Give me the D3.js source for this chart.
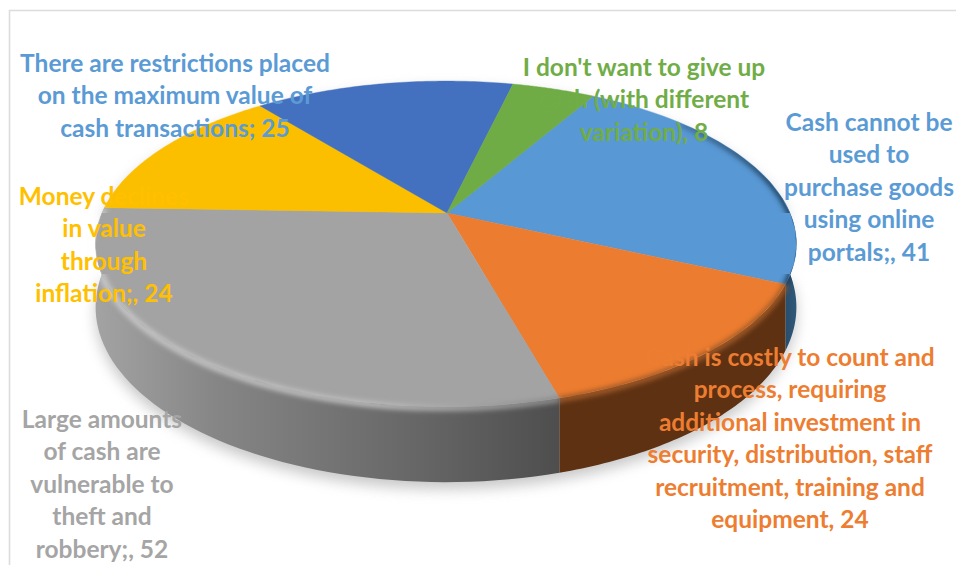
<!DOCTYPE html>
<html>
<head>
<meta charset="utf-8">
<style>
  html, body { margin: 0; padding: 0; background: #fff; }
  svg { display: block; }
  text { font-family: Lato, "Noto Sans", sans-serif; font-weight: 700; text-anchor: middle; }
</style>
<script src="https://cdn.jsdelivr.net/npm/d3@7/dist/d3.min.js"></script>
</head>
<body>
<svg id="chart" width="956" height="565"></svg>
<script>
// Survey responses shown as a tilted pie with a thick edge.
const categories = ["online", "costly", "theft", "inflation", "limits", "habit"];
const values = [41, 24, 52, 24, 25, 8];
const topColors = ["#5898d4", "#ec7c30", "#a3a3a3", "#fbbf00", "#4371c0", "#6fac46"];
const labelColors = ["#5b9bd5", "#ed7d31", "#a5a5a5", "#ffc000", "#5b9bd5", "#70ad47"];
const labelLines = [
  ["Cash cannot be", "used to", "purchase goods", "using online", "portals;,"],
  ["Cash is costly to count and", "process, requiring", "additional investment in", "security, distribution, staff", "recruitment, training and", "equipment,"],
  ["Large amounts", "of cash are", "vulnerable to", "theft and", "robbery;,"],
  ["Money declines", "in value", "through", "inflation;,"],
  ["There are restrictions placed", "on the maximum value of", "cash transactions;"],
  ["I don't want to give up", "cash (with different", "variation),"]
];
const labelCenterX = [869, 790, 102, 104, 175, 644];
const labelFirstBaseline = [131, 366, 428, 205, 72, 76];

const fontSize = 24.5, lineStep = 32.4;

const svg = d3.select("#chart");
const defs = svg.append("defs");

// Perspective view of a flat disc: the far edge shrinks, the near edge grows.
const view = { x: 446, y: 213, radius: 344, depthY: 157, persp: 0.19, thickness: 61 };
function project(theta, drop) {
  const c = Math.cos(theta), s = Math.sin(theta), w = 1 - view.persp * s;
  return [view.x + view.radius * c / w, view.y + (view.depthY * s + drop) / w];
}
const line = d3.line();
const sample = (a, b) => d3.range(0, 61).map(i => d3.scaleLinear().domain([0, 60]).range([a, b])(i));
const toTheta = a => a - Math.PI / 2;

const arcs = d3.pie().sort(null).startAngle(29.9 * Math.PI / 180).endAngle((29.9 + 360) * Math.PI / 180)(values);

// Outline shared by the clip and the drop shadow.
const full = sample(0, 2 * Math.PI);
const outline = () =>
  line(full.map(t => project(t, 0))) + "Z" +
  line(sample(0, Math.PI).map(t => project(t, view.thickness))) +
  line(sample(0, Math.PI).map(t => project(t, 0)).reverse()) + "Z";

const blurs = [["soft", 7], ["bevel", 2.6]];
blurs.forEach(([id, dev]) => {
  defs.append("filter").attr("id", id)
    .attr("x", "-20%").attr("y", "-20%").attr("width", "140%").attr("height", "140%")
    .append("feGaussianBlur").attr("stdDeviation", dev);
});
defs.append("clipPath").attr("id", "discClip").append("path").attr("d", outline()).attr("clip-rule", "nonzero");

function hGradient(id, x1, x2, stops) {
  const g = defs.append("linearGradient").attr("id", id).attr("gradientUnits", "userSpaceOnUse")
    .attr("x1", x1).attr("x2", x2).attr("y1", 0).attr("y2", 0);
  stops.forEach(([o, c]) => g.append("stop").attr("offset", o).attr("stop-color", c));
}
hGradient("sideGray", 100, 558, [[0, "#a2a2a2"], [0.25, "#868686"], [0.7, "#666666"], [1, "#4e4e4e"]]);
hGradient("sideOrange", 558, 790, [[0, "#5e3113"], [1, "#5e3113"]]);
hGradient("sideBlue", 770, 796, [[0, "#1f3f5e"], [1, "#2f5878"]]);
hGradient("bevelGray", 100, 558, [[0, "#c8c8c8"], [0.6, "#bdbdbd"], [1, "#8a8a8a"]]);
hGradient("bevelOrange", 558, 790, [[0, "#a05a28"], [1, "#a05a28"]]);
hGradient("bevelBlue", 650, 796, [[0, "#4d86ba"], [0.6, "#31597e"], [1, "#1f3f5e"]]);

// Chart frame: only its top and left edges fall inside the page.
svg.append("path").attr("d", line([[9.5, 565], [9.5, 10.5], [956, 10.5]]))
  .attr("fill", "none").attr("stroke", "#dcdcdc").attr("stroke-width", 1.6);

// Soft shadow under the disc.
svg.append("path").attr("d", outline()).attr("transform", "translate(0,7)")
  .attr("fill", "#9a9a9a").attr("opacity", 0.55).attr("filter", "url(#soft)");

// Visible edge walls of the slices that face the viewer.
const sideFills = { online: "sideBlue", costly: "sideOrange", theft: "sideGray" };
arcs.forEach((d, i) => {
  const fill = sideFills[categories[i]];
  if (!fill) return;
  const a = Math.max(toTheta(d.startAngle) % (2 * Math.PI), categories[i] === "online" ? -0.1 : -9);
  const b = Math.min(toTheta(d.endAngle), Math.PI);
  const upper = sample(a, b).map(t => project(t, 0));
  const lower = sample(a, b).map(t => project(t, view.thickness)).reverse();
  svg.append("path").attr("d", line(upper.concat(lower)) + "Z").attr("fill", `url(#${fill})`);
});

// Top faces of the slices.
arcs.forEach((d, i) => {
  const rim = sample(toTheta(d.startAngle), toTheta(d.endAngle)).map(t => project(t, 0));
  svg.append("path").attr("d", line([[view.x + 1, view.y]].concat(rim)) + "Z")
    .attr("fill", topColors[i]).attr("stroke", topColors[i]).attr("stroke-width", 0.4);
});

// Rounded bevel along the near rim.
const bevel = svg.append("g").attr("clip-path", "url(#discClip)");
const bevelFills = { online: "bevelBlue", costly: "bevelOrange", theft: "bevelGray" };
arcs.forEach((d, i) => {
  const fill = bevelFills[categories[i]];
  if (!fill) return;
  const a = toTheta(d.startAngle), b = Math.min(toTheta(d.endAngle), Math.PI * 1.02);
  const first = categories[i] === "online" ? a + 0.35 : a;
  bevel.append("path").attr("d", line(sample(first, b).map(t => project(t, 1))))
    .attr("fill", "none").attr("stroke", `url(#${fill})`).attr("stroke-width", 6).attr("filter", "url(#bevel)");
});

// Data labels, wrapped by hand; each ends with its value.
arcs.forEach((d, i) => {
  const lines = labelLines[i];
  const t = svg.append("text").attr("fill", labelColors[i]).attr("font-size", fontSize);
  lines.forEach((txt, k) => {
    t.append("tspan").attr("x", labelCenterX[i]).attr("y", labelFirstBaseline[i] + k * lineStep)
      .text(k === lines.length - 1 ? `${txt} ${values[i]}` : txt);
  });
});
</script>
</body>
</html>
